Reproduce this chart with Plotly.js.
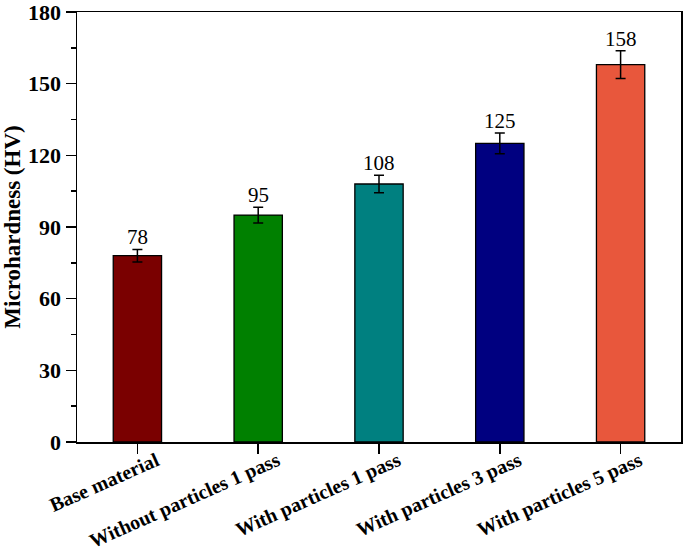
<!DOCTYPE html>
<html>
<head>
<meta charset="utf-8">
<script src="https://cdn.plot.ly/plotly-3.0.1.min.js"></script>
<style>
  html, body { margin: 0; padding: 0; background: #fff; }
  #plot { width: 685px; height: 552px; }
</style>
</head>
<body>
<div id="plot"></div>
<script>
// chart values
const categories = ["Base material", "Without particles 1 pass", "With particles 1 pass", "With particles 3 pass", "With particles 5 pass"];
const hardness = [78, 95, 108, 125, 158];
const errors = [2.6, 3.3, 3.7, 4.3, 5.8];
const barColors = ["#7a0000", "#008000", "#008080", "#000080", "#e8573c"];
const yTicks = [0, 30, 60, 90, 120, 150, 180];

const serif = "Liberation Serif, Times New Roman, serif";

const trace = {
    x: categories,
    y: hardness,
    type: "bar",
    width: 0.4,
    marker: { color: barColors, line: { color: "#000", width: 1.3 } },
    error_y: { type: "data", array: errors, visible: true, color: "#000", thickness: 1.5, width: 5 },
    hoverinfo: "x+y"
};

// value labels above the error bars
const labels = categories.map((c, i) => ({
    x: c,
    y: hardness[i] + errors[i],
    text: String(hardness[i]),
    showarrow: false,
    yanchor: "bottom",
    yshift: -2,
    font: { family: serif, size: 21, color: "#000" }
}));

const layout = {
    width: 685,
    height: 552,
    margin: { l: 77, r: 4, t: 12, b: 110 },
    paper_bgcolor: "#fff",
    plot_bgcolor: "#fff",
    showlegend: false,
    xaxis: {
        type: "category",
        showline: true,
        linecolor: "#000",
        linewidth: 1.5,
        mirror: true,
        ticks: "outside",
        ticklen: 10,
        tickwidth: 1.5,
        tickcolor: "#000",
        tickangle: -24,
        ticklabelshift: 19,
        ticklabelstandoff: -12,
        tickfont: { family: serif, size: 20, color: "#000", weight: "bold" },
        zeroline: false
    },
    yaxis: {
        range: [0, 180],
        tickmode: "array",
        tickvals: yTicks,
        ticklabeloverflow: "allow",
        showgrid: false,
        zeroline: false,
        showline: true,
        linecolor: "#000",
        linewidth: 1.5,
        mirror: true,
        ticks: "outside",
        ticklen: 10,
        tickwidth: 1.5,
        tickcolor: "#000",
        minor: { ticks: "outside", ticklen: 5, tickwidth: 1.5, tickcolor: "#000", tickmode: "linear", tick0: 15, dtick: 30 },
        tickfont: { family: serif, size: 22, color: "#000", weight: "bold" },
        title: { text: "Microhardness (HV)", font: { family: serif, size: 23, color: "#000", weight: "bold" }, standoff: 7 }
    },
    annotations: labels
};

Plotly.newPlot("plot", [trace], layout, { displayModeBar: false, staticPlot: true });
</script>
</body>
</html>
